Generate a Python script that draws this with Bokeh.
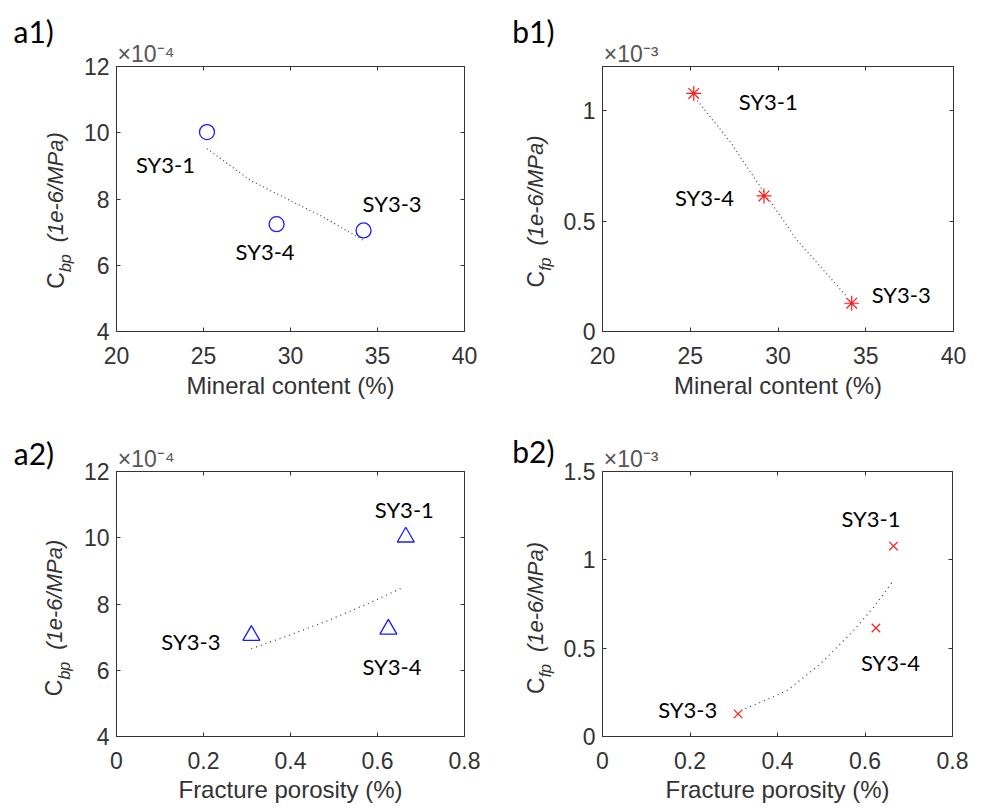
import math
from bokeh.plotting import figure
from bokeh.models import (ColumnDataSource, FixedTicker, LinearAxis, Title,
                          Range1d, CustomJSTickFormatter)
from bokeh.layouts import column, row
from bokeh.embed import file_html
from bokeh.resources import INLINE
from bokeh.core.properties import value

# ---------------- data ----------------
samples = ["SY3-1", "SY3-4", "SY3-3"]
mineral_content = [25.2, 29.2, 34.2]          # %
fracture_porosity = [0.665, 0.625, 0.31]      # %
cbp_e4 = [10.02, 7.24, 7.05]                  # C_bp, x10^-4
cfp_e3 = [1.078, 0.614, 0.128]                # C_fp, x10^-3

# dotted trend lines
trend_a1_x = [25.2, 27.7, 30.0, 31.9, 34.2]
trend_a1_y = [9.52, 8.56, 7.95, 7.45, 6.75]
trend_b1_x = [25.4, 27.3, 29.2, 31.1, 33.9]
trend_b1_y = [1.046, 0.857, 0.63, 0.412, 0.16]
trend_a2_x = [0.31, 0.40, 0.49, 0.58, 0.66]
trend_a2_y = [6.65, 7.07, 7.52, 8.02, 8.51]
trend_b2_x = [0.327, 0.422, 0.498, 0.574, 0.620, 0.662]
trend_b2_y = [0.157, 0.260, 0.411, 0.600, 0.732, 0.873]

mineral_ticks = [20, 25, 30, 35, 40]
porosity_ticks = [0, 0.2, 0.4, 0.6, 0.8]
cbp_ticks = [4, 6, 8, 10, 12]
cfp_ticks_top = [0, 0.5, 1]
cfp_ticks_bottom = [0, 0.5, 1, 1.5]

# ---------------- styles ----------------
AX = "#333333"
EXP = "#555555"
TICK_FONT = "Liberation Sans"
LBL_FONT = "Lato"
BLUE = "#1a1aff"
RED = "#ff1a1a"
TREND = "#444444"


def make_main(width, height, bl, br, bt, bb, xr, yr, xticks, yticks, xlabel, lab_gap,
              exp_text, exp_off):
    p = figure(width=width, height=height, x_range=Range1d(*xr), y_range=Range1d(*yr),
               output_backend="svg", toolbar_location=None,
               min_border_left=bl, min_border_right=br,
               min_border_top=bt, min_border_bottom=bb)
    p.grid.visible = False
    p.outline_line_color = AX
    p.outline_line_width = 1
    xb, yl = p.xaxis[0], p.yaxis[0]
    for ax in (xb, yl):
        ax.major_tick_in = 4
        ax.major_tick_out = 0
        ax.minor_tick_line_color = None
        ax.axis_line_color = AX
        ax.major_tick_line_color = AX
        ax.major_label_text_color = AX
        ax.major_label_text_font = TICK_FONT
        ax.major_label_text_font_size = "23px"
        ax.formatter = CustomJSTickFormatter(code="return String(tick);")
    xb.ticker = FixedTicker(ticks=xticks, minor_ticks=[])
    yl.ticker = FixedTicker(ticks=yticks, minor_ticks=[])
    xb.major_label_standoff = 15
    yl.major_label_standoff = 7
    xb.axis_label = xlabel
    xb.axis_label_text_font = TICK_FONT
    xb.axis_label_text_font_size = "24px"
    xb.axis_label_text_font_style = "normal"
    xb.axis_label_text_color = AX
    xb.axis_label_standoff = lab_gap
    # mirrored ticks (box) on top and right
    top = LinearAxis(ticker=FixedTicker(ticks=xticks, minor_ticks=[]))
    right = LinearAxis(ticker=FixedTicker(ticks=yticks, minor_ticks=[]))
    for ax in (top, right):
        ax.major_tick_in = 4
        ax.major_tick_out = 0
        ax.minor_tick_line_color = None
        ax.axis_line_color = AX
        ax.major_tick_line_color = AX
        ax.major_label_text_font_size = "1px"
        ax.major_label_text_color = None
        ax.major_label_standoff = 0
    p.add_layout(top, "above")
    p.add_layout(right, "right")
    # axis exponent, MATLAB style, at the top-left corner of the box
    p.add_layout(Title(text=exp_text, align="left", offset=exp_off, standoff=0,
                       vertical_align="bottom", text_font=TICK_FONT,
                       text_font_size="23px", text_font_style="normal",
                       text_color=EXP), "above")
    return p


def text_fig(w, h):
    # a blank strip whose data units are pixels, used for texts outside the axes
    f = figure(width=w, height=h, x_range=Range1d(0, w), y_range=Range1d(0, h),
               output_backend="svg", toolbar_location=None, title=None,
               x_axis_location=None, y_axis_location=None, min_border=0)
    f.grid.visible = False
    f.outline_line_color = None
    return f


def put(f, x, y, txt, font, size, color, style="normal", angle=0.0):
    f.text(x=[x], y=[y], text=[txt], angle=angle, text_font=value(font),
           text_font_size=size, text_font_style=style, text_color=color,
           text_align="left", text_baseline="middle")


def panel_fig(w, h, txt, x, y):
    f = text_fig(w, h)
    put(f, x, y, txt, LBL_FONT, "30px", "black")
    return f


def ylabel_fig(w, h, sub, cx, sub_x, center_y):
    f = text_fig(w, h)
    c_w = 0.722 * 23
    sub_w = {"bp": 1.112, "fp": 0.834}[sub] * 16
    gap = 12
    tail_w = 5.0 * 22 * 1.2
    start = center_y - (c_w + sub_w + gap + tail_w) / 2
    put(f, cx, start, "C", TICK_FONT, "23px", AX, angle=math.pi / 2)
    put(f, sub_x, start + c_w, sub, TICK_FONT, "16px", AX, style="italic",
        angle=math.pi / 2)
    put(f, cx, start + c_w + sub_w + gap, "(1e-6/MPa)", TICK_FONT, "22px", AX,
        style="italic", angle=math.pi / 2)
    return f


def add_names(p, xs, ys, dx, dy):
    src = ColumnDataSource(dict(x=xs, y=ys, name=samples, dx=dx, dy=dy))
    p.text(x="x", y="y", text="name", x_offset="dx", y_offset="dy", source=src,
           text_font=value(LBL_FONT), text_font_size="22px", text_color="black",
           text_align="left", text_baseline="middle")


EXP4 = "\u00d710\u207b\u2074"
EXP3 = "\u00d710\u207b\u00b3"

# ---------- a1 ----------
p1 = make_main(414, 404, 40, 26, 66, 73, (20, 40), (4, 12), mineral_ticks, cbp_ticks,
               "Mineral content (%)", 5, EXP4, 1)
p1.line(trend_a1_x, trend_a1_y, line_color=TREND, line_width=1.2, line_dash="1 3")
p1.scatter(mineral_content, cbp_e4, marker="circle", size=15, fill_color=None,
           line_color=BLUE, line_width=1.3)
add_names(p1, mineral_content, cbp_e4, [-71, -41, -1], [32, 27, -27])
a1 = row(column(panel_fig(76, 64, "a1)", 13, 34),
                ylabel_fig(76, 340, "bp", 55, 65, 205)), p1)

# ---------- b1 ----------
p2 = make_main(410, 404, 42, 17, 66, 73, (20, 40), (0, 1.2), mineral_ticks, cfp_ticks_top,
               "Mineral content (%)", 5, EXP3, 1.3)
p2.line(trend_b1_x, trend_b1_y, line_color=TREND, line_width=1.2, line_dash="1 3")
p2.scatter(mineral_content, cfp_e3, marker="asterisk", size=15, line_color=RED,
           line_width=1.2)
add_names(p2, mineral_content, cfp_e3, [45, -89, 20], [8, 2, -9])
b1 = row(column(panel_fig(70, 64, "b1)", 21.7, 34),
                ylabel_fig(70, 340, "fp", 45, 55, 204)), p2)

# ---------- a2 ----------
p3 = make_main(414, 404, 40, 26, 67, 72, (0, 0.8), (4, 12), porosity_ticks, cbp_ticks,
               "Fracture porosity (%)", 4, EXP4, 1.3)
p3.line(trend_a2_x, trend_a2_y, line_color=TREND, line_width=1.3, line_dash="1 4")
p3.scatter(fracture_porosity, cbp_e4, marker="triangle", size=17, fill_color=None,
           line_color=BLUE, line_width=1.3)
add_names(p3, fracture_porosity, cbp_e4, [-31, -26, -90], [-28, 37, 6])
a2 = row(column(panel_fig(76, 66, "a2)", 13.3, 18),
                ylabel_fig(76, 338, "bp", 53.7, 63.7, 201.5)), p3)

# ---------- b2 ----------
p4 = make_main(410, 404, 42, 18, 67, 72, (0, 0.8), (0, 1.5), porosity_ticks,
               cfp_ticks_bottom, "Fracture porosity (%)", 4, EXP3, 1.3)
p4.line(trend_b2_x, trend_b2_y, line_color=TREND, line_width=1.3, line_dash="1 4")
p4.scatter(fracture_porosity, cfp_e3, marker="x", size=12, line_color=RED, line_width=1.2)
add_names(p4, fracture_porosity, cfp_e3, [-52, -15, -80], [-28, 34, -4])
b2 = row(column(panel_fig(70, 66, "b2)", 21.7, 20),
                ylabel_fig(70, 338, "fp", 45, 55, 201.5)), p4)

layout = column(row(a1, b1), row(a2, b2))
open("out.html", "w").write(file_html(layout, INLINE))
